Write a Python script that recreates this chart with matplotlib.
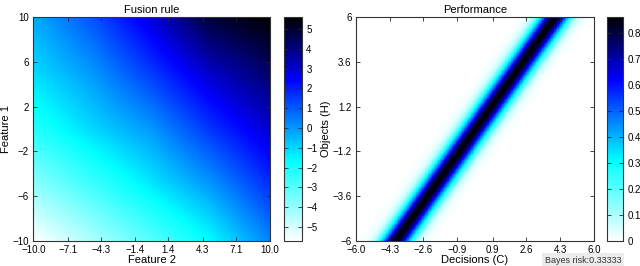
import numpy as np
import matplotlib
matplotlib.use("Agg")
import matplotlib.pyplot as plt
from matplotlib.colors import LinearSegmentedColormap

plt.rcParams['font.family'] = ['Liberation Sans', 'DejaVu Sans']

# fusion rule values read on a 5x5 grid (rows: feature 1 = -10..10; cols: feature 2 = -10..10)
grid_pts = [-10, -5, 0, 5, 10]
fusion_grid = [[-5.7, -4.4, -3.0, -1.6, 0.3],
               [-3.9, -2.6, -1.3, 0.0, 1.7],
               [-2.2, -1.0, 0.0, 1.6, 3.0],
               [-1.1, 0.0, 1.5, 3.1, 4.3],
               [-0.3, 1.1, 2.9, 4.9, 5.6]]
feature_range = [-10, 10]

# performance: band centre (decision) at the bottom / top of the objects axis
objects_range = [-6, 6]
decisions_range = [-6, 6]
band_centres = [-4.0, 4.0]
# cross-band profile: distance from centre -> value
profile_dist = [0.0, 0.2, 0.4, 0.6, 0.8, 1.0, 1.2, 1.5, 2.0]
profile_vals = [0.86, 0.80, 0.64, 0.44, 0.27, 0.14, 0.06, 0.015, 0.0]

x1_ticks = [-10.0, -7.1, -4.3, -1.4, 1.4, 4.3, 7.1, 10.0]
y1_ticks = [-10, -6, -2, 2, 6, 10]
x2_ticks = [-6.0, -4.3, -2.6, -0.9, 0.9, 2.6, 4.3, 6.0]
y2_ticks = [-6, -3.6, -1.2, 1.2, 3.6, 6]
cb1_ticks = [-5, -4, -3, -2, -1, 0, 1, 2, 3, 4, 5]
cb2_ticks = [0, 0.1, 0.2, 0.3, 0.4, 0.5, 0.6, 0.7, 0.8]
bayes_risk = 0.33333

cmap = LinearSegmentedColormap.from_list(
    "wcbk", [(0.0, "#ffffff"), (0.36, "#00ffff"), (0.72, "#0000ff"), (1.0, "#000000")])


def fmt(v, spec):
    return (spec % v).replace("-", "\u2212")


fig = plt.figure(figsize=(6.4, 2.66), dpi=100)
ax1 = fig.add_axes([0.052, 0.094, 0.370, 0.842])
cax1 = fig.add_axes([0.444, 0.094, 0.028, 0.842])
ax2 = fig.add_axes([0.556, 0.094, 0.372, 0.842])
cax2 = fig.add_axes([0.949, 0.094, 0.025, 0.842])


def style(ax):
    ax.tick_params(direction='in', top=True, right=True, labelsize=7, length=3,
                   width=0.6, pad=3, colors='#262626', labelcolor='black')
    for s in ax.spines.values():
        s.set_linewidth(0.8)
        s.set_color('#333333')


# left panel: bilinear field through the grid values
fine = np.linspace(feature_range[0], feature_range[1], 300)
grid = np.array(fusion_grid)
rows = np.array([np.interp(fine, grid_pts, r) for r in grid])
fusion = np.array([np.interp(fine, grid_pts, rows[:, j]) for j in range(len(fine))]).T
im1 = ax1.imshow(fusion, origin='lower', cmap=cmap, interpolation='nearest',
                 extent=[feature_range[0], feature_range[1], feature_range[0], feature_range[1]],
                 aspect='auto', vmin=-5.7, vmax=5.6)
ax1.set_xticks(x1_ticks)
ax1.set_xticklabels([fmt(v, "%.1f") for v in x1_ticks])
ax1.set_yticks(y1_ticks)
ax1.set_yticklabels([fmt(v, "%d") for v in y1_ticks])
ax1.set_xlabel("Feature 2", fontsize=8, labelpad=0)
ax1.set_ylabel("Feature 1", fontsize=8, labelpad=1)
ax1.set_title("Fusion rule", fontsize=8, pad=3)
style(ax1)
cb1 = fig.colorbar(im1, cax=cax1, ticks=cb1_ticks)
cb1.ax.set_yticklabels([fmt(v, "%d") for v in cb1_ticks])
style(cax1)
cax1.tick_params(left=True, top=False)

# right panel
xs = np.linspace(decisions_range[0], decisions_range[1], 400)
ys = np.linspace(objects_range[0], objects_range[1], 400)
centres = np.interp(ys, objects_range, band_centres)
dist = np.abs(xs[None, :] - centres[:, None])
perf = np.interp(dist, profile_dist, profile_vals)
im2 = ax2.imshow(perf, origin='lower', cmap=cmap, interpolation='nearest',
                 extent=[decisions_range[0], decisions_range[1], objects_range[0], objects_range[1]],
                 aspect='auto', vmin=0, vmax=0.86)
ax2.set_xticks(x2_ticks)
ax2.set_xticklabels([fmt(v, "%.1f") for v in x2_ticks])
ax2.set_yticks(y2_ticks)
ax2.set_yticklabels([fmt(v, "%g") for v in y2_ticks])
ax2.set_xlabel("Decisions (C)", fontsize=8, labelpad=0)
ax2.set_ylabel("Objects (H)", fontsize=8, labelpad=1)
ax2.set_title("Performance", fontsize=8, pad=3)
style(ax2)
cb2 = fig.colorbar(im2, cax=cax2, ticks=cb2_ticks)
cb2.ax.set_yticklabels([fmt(v, "%g") for v in cb2_ticks])
style(cax2)
cax2.tick_params(left=True, top=False)

fig.text(0.911, 0.005, "Bayes risk:%.5f" % bayes_risk, fontsize=6.5, color='#333333',
         ha='center', va='bottom',
         bbox=dict(boxstyle='square,pad=0.25', fc='#ececec', ec='none'))

fig.savefig("out.png", dpi=100)
